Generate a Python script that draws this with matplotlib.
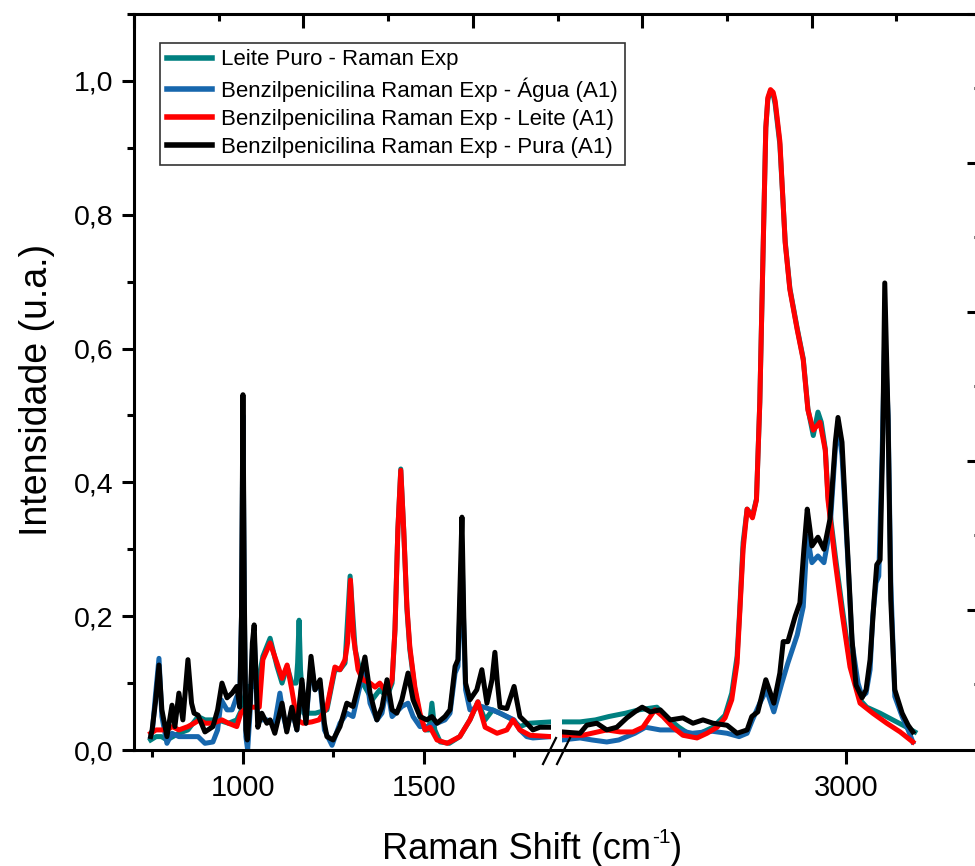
import numpy as np
import matplotlib
matplotlib.use("Agg")
import matplotlib.pyplot as plt
from matplotlib.ticker import MultipleLocator, FuncFormatter
from matplotlib.lines import Line2D

plt.rcParams['font.family'] = ['Liberation Sans', 'DejaVu Sans']

# Raman spectra: (Raman shift in cm-1, normalised intensity)
leite_puro = [
    (745, 0.015), (760, 0.02), (775, 0.02), (790, 0.015), (823, 0.025), (848, 0.03), (876, 0.05),
    (895, 0.045), (930, 0.045), (960, 0.04), (983, 0.045), (996, 0.06), (1011, 0.095), (1040, 0.095),
    (1055, 0.14), (1075, 0.167), (1094, 0.125), (1108, 0.1), (1122, 0.125), (1135, 0.1), (1147, 0.1),
    (1151, 0.13), (1155, 0.194), (1159, 0.12), (1168, 0.055), (1200, 0.055), (1232, 0.06), (1254, 0.12),
    (1268, 0.12), (1282, 0.13), (1296, 0.26), (1310, 0.15), (1331, 0.1), (1357, 0.075), (1378, 0.09),
    (1398, 0.08), (1412, 0.1), (1420, 0.18), (1428, 0.33), (1436, 0.42), (1444, 0.33), (1453, 0.21),
    (1461, 0.15), (1475, 0.09), (1489, 0.05), (1503, 0.03), (1514, 0.03), (1522, 0.07), (1530, 0.03),
    (1545, 0.012), (1570, 0.01), (1599, 0.02), (1627, 0.045), (1649, 0.072), (1669, 0.045), (1690, 0.06),
    (1710, 0.055), (1746, 0.045), (1765, 0.035), (1790, 0.04), (1851, 0.042),
    (2575, 0.042), (2602, 0.042), (2625, 0.045), (2645, 0.05), (2670, 0.055), (2690, 0.06), (2717, 0.064),
    (2730, 0.05), (2750, 0.034), (2771, 0.02), (2801, 0.034), (2819, 0.052), (2829, 0.085), (2837, 0.14),
    (2841, 0.21), (2846, 0.31), (2852, 0.36), (2860, 0.35), (2866, 0.375), (2871, 0.52), (2876, 0.75),
    (2880, 0.93), (2883, 0.972), (2887, 0.985), (2891, 0.98), (2894, 0.965), (2901, 0.905), (2909, 0.76),
    (2916, 0.69), (2927, 0.63), (2936, 0.585), (2943, 0.51), (2951, 0.47), (2958, 0.505), (2963, 0.49),
    (2969, 0.45), (2973, 0.38), (2984, 0.29), (2994, 0.215), (3006, 0.13), (3021, 0.075), (3031, 0.064),
    (3051, 0.055), (3070, 0.045), (3091, 0.034), (3103, 0.027),
]

penicilina_agua = [
    (745, 0.02), (750, 0.03), (758, 0.08), (768, 0.137), (776, 0.05), (790, 0.01), (804, 0.025),
    (823, 0.02), (848, 0.02), (876, 0.02), (895, 0.01), (917, 0.012), (930, 0.03), (940, 0.075),
    (956, 0.06), (970, 0.06), (983, 0.08), (991, 0.08), (996, 0.2), (1000, 0.5), (1004, 0.2),
    (1008, 0.02), (1013, 0.0), (1020, 0.06), (1026, 0.15), (1031, 0.175), (1036, 0.1), (1041, 0.045),
    (1066, 0.045), (1088, 0.04), (1102, 0.085), (1112, 0.05), (1121, 0.03), (1135, 0.06), (1149, 0.03),
    (1163, 0.1), (1174, 0.04), (1188, 0.13), (1199, 0.09), (1213, 0.1), (1225, 0.03), (1246, 0.007),
    (1268, 0.04), (1287, 0.055), (1304, 0.05), (1323, 0.095), (1337, 0.13), (1351, 0.07), (1370, 0.045),
    (1384, 0.055), (1398, 0.095), (1412, 0.05), (1439, 0.065), (1456, 0.07), (1470, 0.05), (1489, 0.035),
    (1508, 0.035), (1536, 0.04), (1558, 0.045), (1572, 0.055), (1586, 0.115), (1594, 0.125), (1600, 0.22),
    (1605, 0.3), (1610, 0.18), (1615, 0.09), (1627, 0.06), (1660, 0.065), (1688, 0.06), (1710, 0.055),
    (1749, 0.045), (1765, 0.03), (1784, 0.02), (1801, 0.018), (1851, 0.02),
    (2575, 0.015), (2602, 0.018), (2620, 0.015), (2642, 0.012), (2660, 0.015), (2684, 0.025), (2700, 0.034),
    (2722, 0.03), (2745, 0.03), (2770, 0.025), (2800, 0.028), (2822, 0.025), (2840, 0.02), (2852, 0.025),
    (2860, 0.045), (2871, 0.07), (2881, 0.09), (2892, 0.057), (2904, 0.1), (2913, 0.13), (2927, 0.172),
    (2936, 0.214), (2942, 0.32), (2949, 0.28), (2958, 0.29), (2967, 0.28), (2976, 0.33), (2984, 0.45),
    (2988, 0.49), (2994, 0.44), (3003, 0.28), (3009, 0.16), (3018, 0.1), (3024, 0.08), (3030, 0.085),
    (3036, 0.12), (3040, 0.2), (3045, 0.25), (3049, 0.26), (3054, 0.44), (3058, 0.62), (3063, 0.5),
    (3067, 0.25), (3073, 0.08), (3084, 0.05), (3093, 0.03), (3100, 0.012),
]

penicilina_leite = [
    (745, 0.025), (760, 0.03), (790, 0.03), (805, 0.035), (823, 0.03), (848, 0.035), (865, 0.04),
    (880, 0.045), (895, 0.04), (917, 0.04), (942, 0.045), (960, 0.04), (983, 0.035), (994, 0.055),
    (1011, 0.064), (1045, 0.064), (1055, 0.135), (1075, 0.16), (1094, 0.13), (1108, 0.107), (1122, 0.127),
    (1135, 0.09), (1149, 0.045), (1166, 0.04), (1190, 0.042), (1210, 0.045), (1232, 0.064), (1254, 0.124),
    (1268, 0.12), (1282, 0.135), (1289, 0.16), (1297, 0.254), (1305, 0.17), (1318, 0.12), (1331, 0.105),
    (1351, 0.1), (1365, 0.094), (1378, 0.1), (1398, 0.085), (1412, 0.105), (1420, 0.18), (1428, 0.33),
    (1436, 0.418), (1444, 0.33), (1453, 0.214), (1461, 0.154), (1475, 0.094), (1489, 0.055), (1503, 0.03),
    (1517, 0.034), (1536, 0.015), (1564, 0.01), (1599, 0.02), (1627, 0.045), (1649, 0.072), (1669, 0.034),
    (1702, 0.025), (1729, 0.03), (1746, 0.045), (1765, 0.03), (1793, 0.022), (1851, 0.02),
    (2575, 0.022), (2606, 0.022), (2642, 0.03), (2662, 0.027), (2681, 0.027), (2696, 0.034), (2714, 0.06),
    (2726, 0.05), (2741, 0.034), (2756, 0.022), (2777, 0.018), (2792, 0.025), (2807, 0.034), (2819, 0.048),
    (2829, 0.075), (2837, 0.13), (2841, 0.205), (2846, 0.3), (2852, 0.36), (2860, 0.347), (2866, 0.374),
    (2871, 0.52), (2876, 0.75), (2880, 0.93), (2883, 0.975), (2887, 0.987), (2891, 0.983), (2894, 0.97),
    (2901, 0.91), (2909, 0.758), (2916, 0.688), (2927, 0.628), (2936, 0.583), (2943, 0.508), (2951, 0.478),
    (2961, 0.49), (2969, 0.448), (2973, 0.374), (2984, 0.28), (2994, 0.205), (3006, 0.124), (3021, 0.07),
    (3040, 0.055), (3061, 0.04), (3081, 0.027), (3100, 0.012),
]

penicilina_pura = [
    (745, 0.02), (749, 0.03), (758, 0.07), (768, 0.127), (776, 0.06), (790, 0.02), (804, 0.067),
    (812, 0.035), (823, 0.085), (834, 0.045), (848, 0.135), (858, 0.07), (865, 0.055), (876, 0.052),
    (895, 0.027), (917, 0.035), (930, 0.06), (942, 0.10), (956, 0.078), (970, 0.085), (983, 0.095),
    (991, 0.064), (996, 0.2), (1000, 0.531), (1004, 0.22), (1008, 0.03), (1012, 0.015), (1020, 0.07),
    (1026, 0.16), (1031, 0.187), (1036, 0.11), (1041, 0.034), (1052, 0.055), (1066, 0.04), (1075, 0.045),
    (1088, 0.025), (1108, 0.07), (1121, 0.027), (1135, 0.064), (1149, 0.03), (1163, 0.105), (1174, 0.04),
    (1188, 0.14), (1199, 0.09), (1213, 0.105), (1225, 0.04), (1232, 0.02), (1249, 0.015), (1268, 0.035),
    (1287, 0.07), (1304, 0.065), (1323, 0.105), (1337, 0.139), (1351, 0.085), (1370, 0.045), (1384, 0.064),
    (1398, 0.105), (1412, 0.06), (1425, 0.055), (1439, 0.075), (1456, 0.115), (1470, 0.075), (1489, 0.05),
    (1508, 0.045), (1522, 0.05), (1536, 0.04), (1558, 0.05), (1572, 0.06), (1586, 0.125), (1594, 0.135),
    (1600, 0.25), (1605, 0.348), (1610, 0.2), (1615, 0.1), (1627, 0.075), (1646, 0.09), (1660, 0.12),
    (1674, 0.07), (1688, 0.105), (1696, 0.146), (1703, 0.1), (1710, 0.064), (1729, 0.062), (1749, 0.095),
    (1765, 0.05), (1784, 0.04), (1801, 0.03), (1820, 0.034), (1851, 0.034),
    (2575, 0.027), (2602, 0.025), (2612, 0.037), (2627, 0.04), (2642, 0.03), (2657, 0.034), (2672, 0.048),
    (2684, 0.057), (2695, 0.064), (2707, 0.057), (2722, 0.06), (2737, 0.045), (2756, 0.048), (2771, 0.04),
    (2786, 0.045), (2801, 0.04), (2822, 0.037), (2837, 0.025), (2852, 0.03), (2859, 0.05), (2868, 0.057),
    (2880, 0.105), (2892, 0.07), (2901, 0.115), (2906, 0.162), (2913, 0.162), (2924, 0.2), (2931, 0.22),
    (2937, 0.3), (2942, 0.36), (2946, 0.33), (2949, 0.305), (2958, 0.318), (2967, 0.30), (2976, 0.345),
    (2984, 0.46), (2988, 0.497), (2994, 0.46), (3003, 0.285), (3009, 0.165), (3015, 0.097), (3024, 0.078),
    (3030, 0.09), (3036, 0.135), (3042, 0.224), (3046, 0.277), (3051, 0.284), (3055, 0.463), (3058, 0.698),
    (3063, 0.493), (3067, 0.224), (3073, 0.09), (3084, 0.055), (3093, 0.037), (3100, 0.027),
]

series = [leite_puro, penicilina_agua, penicilina_leite, penicilina_pura]
labels = [
    "Leite Puro - Raman Exp",
    "Benzilpenicilina Raman Exp - Água (A1)",
    "Benzilpenicilina Raman Exp - Leite (A1)",
    "Benzilpenicilina Raman Exp - Pura (A1)",
]
colors = ["#008080", "#1767ad", "#ff0000", "#000000"]

W, H = 975, 866
fig = plt.figure(figsize=(W / 100, H / 100), dpi=100)


def box(x0, x1, y0, y1):
    """Pixel box (left, right, top, bottom) -> figure fraction rect."""
    return [x0 / W, 1 - y1 / H, (x1 - x0) / W, (y1 - y0) / H]


LEFT, RIGHT, TOP, BOTTOM = 134, 981, 14, 750
ax_lo = fig.add_axes(box(LEFT, 551, TOP, BOTTOM))
ax_hi = fig.add_axes(box(562, RIGHT, TOP, BOTTOM))
frame = fig.add_axes(box(LEFT, RIGHT, TOP, BOTTOM))

LW = 3.6
handles = []
for ax in (ax_lo, ax_hi):
    for data, c, lab in zip(series, colors, labels):
        x, y = np.array(data).T
        ln, = ax.plot(x, y, color=c, lw=LW, solid_joinstyle="round", label=lab)
        if ax is ax_lo:
            handles.append(ln)

ax_lo.set_xlim(699, 1851)
ax_hi.set_xlim(2575, 3202)
for ax in (ax_lo, ax_hi):
    ax.set_ylim(0, 1.1)
    ax.patch.set_visible(False)
    for s in ax.spines.values():
        s.set_visible(False)
    ax.xaxis.set_major_locator(MultipleLocator(500))
    ax.xaxis.set_minor_locator(MultipleLocator(250))
    ax.tick_params(axis="x", which="major", direction="out", length=10, width=2.2,
                   labelsize=21, pad=7)
    ax.tick_params(axis="x", which="minor", direction="out", length=5, width=2.2)

ax_lo.yaxis.set_major_locator(MultipleLocator(0.2))
ax_lo.yaxis.set_minor_locator(MultipleLocator(0.1))
ax_lo.yaxis.set_major_formatter(FuncFormatter(lambda v, p: f"{v:.1f}".replace(".", ",")))
ax_lo.tick_params(axis="y", which="major", direction="out", length=8.5, width=2.2,
                  labelsize=20.5, pad=6.5)
ax_lo.tick_params(axis="y", which="minor", direction="out", length=5, width=2.2)
ax_hi.tick_params(axis="y", which="both", left=False, labelleft=False)

# Outer frame with inward ticks on top and right
frame.patch.set_visible(False)
frame.set_xlim(0, 1)
frame.set_ylim(0.06, 5.0)
for s in frame.spines.values():
    s.set_linewidth(2.2)
frame.xaxis.set_major_locator(MultipleLocator(0.2))
frame.xaxis.set_minor_locator(MultipleLocator(0.1))
frame.yaxis.set_major_locator(MultipleLocator(1))
frame.yaxis.set_minor_locator(MultipleLocator(0.5))
frame.tick_params(axis="x", which="both", bottom=False, top=True, labelbottom=False,
                  direction="in", width=2.2)
frame.tick_params(axis="y", which="both", left=False, right=True, labelleft=False,
                  direction="in", width=2.2)
frame.tick_params(which="major", length=10)
frame.tick_params(which="minor", length=5)

leg = frame.legend(handles, labels, loc="upper left", bbox_to_anchor=(0.031, 0.961),
                   borderaxespad=0, fontsize=16, frameon=True, fancybox=False,
                   edgecolor="#333333", framealpha=1, handlelength=2.05, handletextpad=0.4,
                   labelspacing=0.32, borderpad=0.3)
leg.get_frame().set_linewidth(1.2)
for lh in leg.get_lines():
    lh.set_linewidth(4)

# Axis-break marks
for x0 in (543, 557):
    fig.add_artist(Line2D([x0 / W, (x0 + 13) / W], [1 - 764 / H, 1 - 738 / H],
                          transform=fig.transFigure, color="black", lw=1.6))

# X axis title with a small hyphenated superscript
renderer = fig.canvas.get_renderer()
LABEL_FS, SUP_FS = 26, 15
base_y = 1 - 859 / H
parts = []
t_main = fig.text(0, base_y, "Raman Shift (cm", fontsize=LABEL_FS, va="baseline")
t_sup = fig.text(0, base_y + 16 / H, "-1", fontsize=SUP_FS, va="baseline")
t_end = fig.text(0, base_y, ")", fontsize=LABEL_FS, va="baseline")
widths = [t.get_window_extent(renderer).width for t in (t_main, t_sup, t_end)]
x = 532 - (sum(widths) + 1) / 2
for t, w in zip((t_main, t_sup, t_end), widths):
    t.set_x(x / W)
    x += w + (1 if t is t_main else 0)

fig.text(37 / W, 1 - 390 / H, "Intensidade (u.a.)", ha="center", va="center",
         rotation=90, fontsize=27)

fig.savefig("out.png", dpi=100)
